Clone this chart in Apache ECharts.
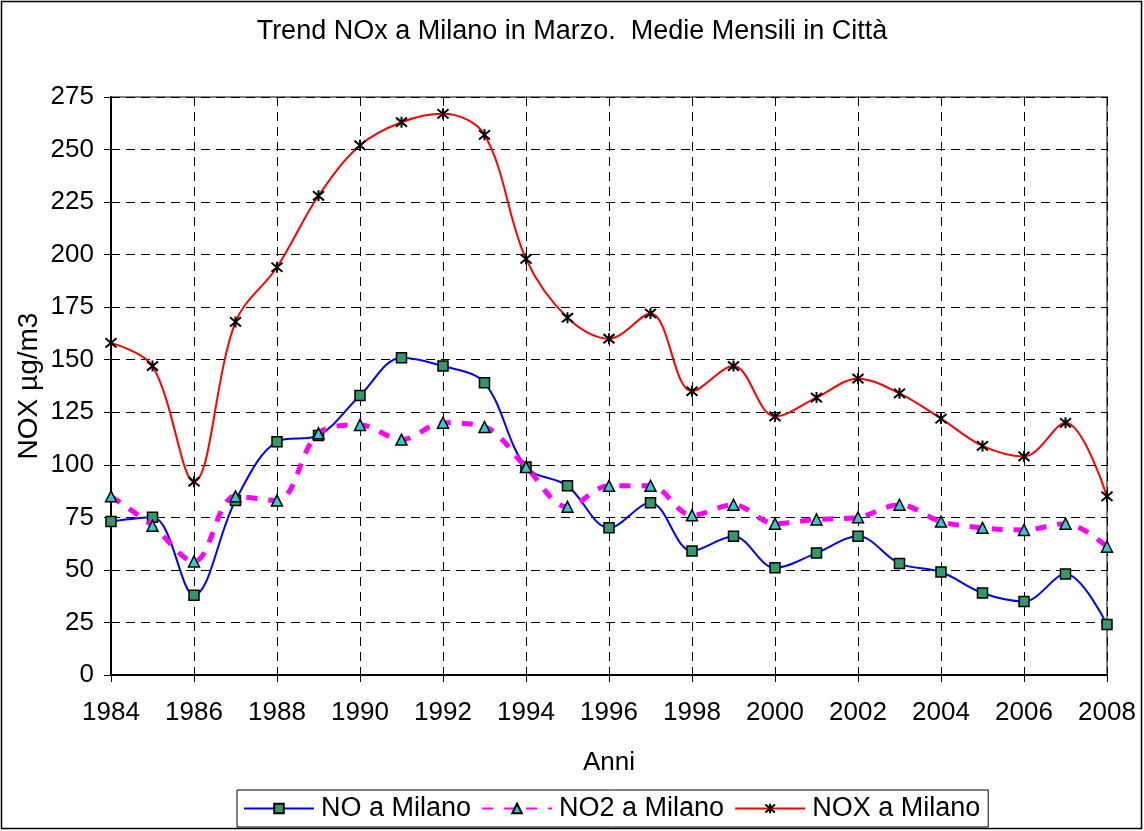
<!DOCTYPE html>
<html>
<head>
<meta charset="utf-8">
<script src="https://cdn.jsdelivr.net/npm/echarts@6/dist/echarts.min.js"></script>
<style>
html,body{margin:0;padding:0;background:#fff;}
#c{width:1144px;height:831px;}
</style>
</head>
<body>
<div id="c"></div>
<script>
const years = [1984,1985,1986,1987,1988,1989,1990,1991,1992,1993,1994,1995,1996,1997,1998,1999,2000,2001,2002,2003,2004,2005,2006,2007,2008];
const noValues  = [73,75,38,83,111,114,133,151,147,139,99,90,70,82,59,66,51,58,66,53,49,39,35,48,24];
const no2Values = [85,71,54,85,83,115,119,112,120,118,99,80,90,90,76,81,72,74,75,81,73,70,69,72,61];
const noxValues = [158,147,92,168,194,228,252,263,267,257,198,170,160,172,135,147,123,132,141,134,122,109,104,120,85];
const seriesNames = ['NO a Milano','NO2 a Milano','NOX a Milano'];
const titleText = 'Trend NOx a Milano in Marzo.  Medie Mensili in Città';
const yAxisName = 'NOX µg/m3';
const xAxisName = 'Anni';

const pairs = v => years.map((y,i)=>[y,v[i]]);
const FONT = '"Liberation Sans", Arial, sans-serif';
const FS = 26;
const chart = echarts.init(document.getElementById('c'), null, {renderer:'canvas'});
const smooth = 0.35;
chart.setOption({
  animation:false,
  backgroundColor:'#fff',
  textStyle:{fontFamily:FONT,color:'#000'},
  title:{text:titleText,left:'center',top:13,textStyle:{fontFamily:FONT,fontSize:27,fontWeight:'normal',color:'#000'}},
  graphic:[{type:'rect',shape:{x:1.5,y:1.5,width:1140,height:827},style:{fill:'none',stroke:'#000',lineWidth:1.5},silent:true,z:-1}],
  grid:{left:111,right:37,top:97,bottom:156,show:true,borderColor:'#808080',borderWidth:2,backgroundColor:'transparent'},
  legend:{
    top:790,left:237,
    data:seriesNames,
    itemWidth:70,itemHeight:12,itemGap:10,
    padding:[5,8,5,6],
    borderColor:'#000',borderWidth:1,
    textStyle:{fontFamily:FONT,fontSize:27,color:'#000',padding:[0,0,0,2]}
  },
  xAxis:{
    type:'value',min:1984,max:2008,interval:2,
    name:xAxisName,nameLocation:'middle',nameGap:75,nameMoveOverlap:false,
    nameTextStyle:{fontFamily:FONT,fontSize:FS,color:'#000'},
    axisLine:{show:true,lineStyle:{color:'#000',width:2}},
    axisTick:{show:true,length:7,lineStyle:{color:'#000'}},
    axisLabel:{fontFamily:FONT,fontSize:FS,color:'#000',margin:25,formatter:v=>String(v)},
    splitLine:{show:true,lineStyle:{color:'#000',width:1,type:[9,6]}}
  },
  yAxis:{
    type:'value',min:0,max:275,interval:25,
    name:yAxisName,nameLocation:'middle',nameGap:68,nameMoveOverlap:false,
    nameTextStyle:{fontFamily:FONT,fontSize:28,color:'#000'},
    axisLine:{show:true,lineStyle:{color:'#000',width:2}},
    axisTick:{show:true,length:7,lineStyle:{color:'#000'}},
    axisLabel:{fontFamily:FONT,fontSize:FS,color:'#000',margin:17},
    splitLine:{show:true,lineStyle:{color:'#000',width:1,type:[9,6]}}
  },
  series:[
    {name:seriesNames[0],type:'line',data:pairs(noValues),smooth:smooth,
     lineStyle:{color:'#0000FF',width:2},
     symbol:'rect',symbolSize:10,
     itemStyle:{color:'#339966',borderColor:'#000',borderWidth:1.5},z:3},
    {name:seriesNames[1],type:'line',data:pairs(no2Values),smooth:smooth,
     lineStyle:{color:'#FF00FF',width:5,type:[11,11]},
     symbol:'triangle',symbolSize:11,
     itemStyle:{color:'#33CCCC',borderColor:'#000',borderWidth:1.5},z:4},
    {name:seriesNames[2],type:'line',data:pairs(noxValues),smooth:smooth,
     lineStyle:{color:'#FF0000',width:2},
     symbol:'path://M0,0L10,10M10,0L0,10M5,-1L5,11',symbolSize:11,
     itemStyle:{color:'#000',borderColor:'#000',borderWidth:2},z:5}
  ]
});
</script>
</body>
</html>
